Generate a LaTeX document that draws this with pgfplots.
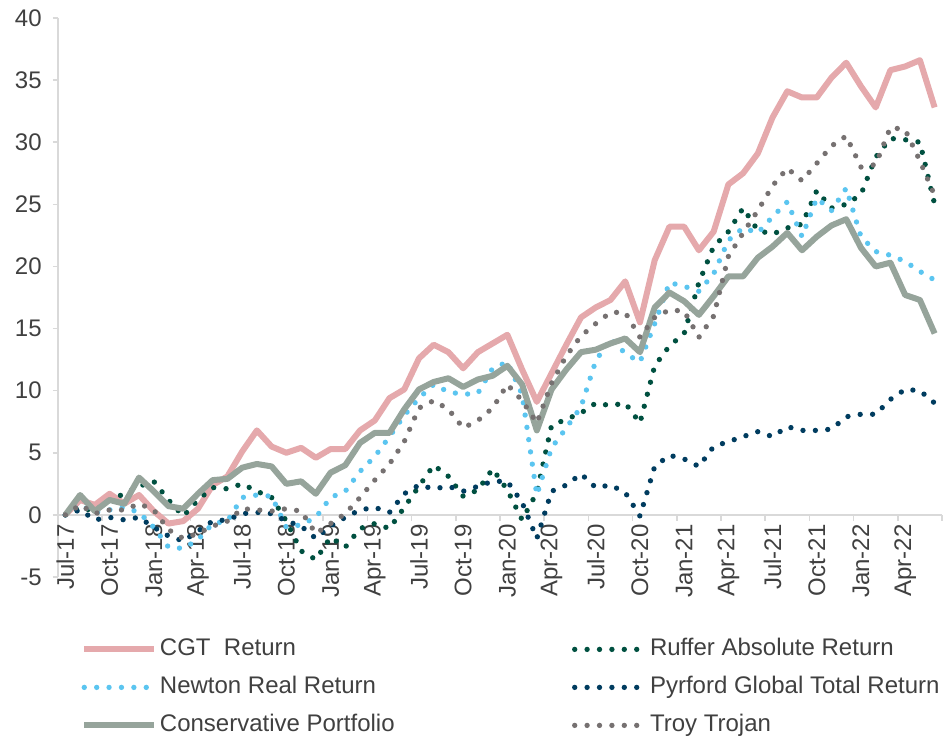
\documentclass[border=0pt]{standalone}
\usepackage{pgfplots}
\pgfplotsset{compat=1.18}
\usepackage{pgfplotstable}
\usepackage{fontspec}
\setmainfont{Liberation Sans}

\definecolor{cgtpink}{RGB}{229,169,172}
\definecolor{consgreen}{RGB}{150,164,155}
\definecolor{newtonblue}{RGB}{91,197,240}
\definecolor{rufferteal}{RGB}{0,80,64}
\definecolor{pyrfordnavy}{RGB}{0,60,95}
\definecolor{troygray}{RGB}{118,113,113}
\definecolor{axisgray}{RGB}{217,217,217}
\definecolor{labelgray}{RGB}{64,64,64}

% cumulative return, %, month index 0 = Jul-17
\pgfplotstableread{
i  cgt  ruffer newton pyrford cons troy
0  0.0  0.0   0.0   0.0   0.0  0.0
1  1.2  0.6   0.8   0.4   1.6  0.8
2  0.8  0.3   0.2  -0.4   0.3  0.1
3  1.7  1.2   0.4  -0.2   1.2  0.4
4  0.9  1.7   0.6  -0.4   0.9  0.4
5  1.6  2.3   0.2  -0.2   3.0  0.9
6  0.3  2.7  -1.0  -1.0   1.9  0.4
7  -0.7 1.2  -2.6  -1.7   0.7 -1.2
8  -0.5 -0.1 -2.7  -2.1   0.5 -1.9
9  0.5  1.2  -2.0  -1.3   1.7 -1.5
10 2.4  2.2  -0.7  -0.5   2.8 -0.9
11 3.1  2.1  -0.5  -0.4   2.9 -0.5
12 5.1  2.5   1.4   0.1   3.8  0.5
13 6.8  1.9   1.6   0.2   4.1  0.4
14 5.5  1.4   1.5   0.1   3.9  0.3
15 5.0  -0.5 -1.0  -0.5   2.5  0.5
16 5.4  -2.9 -0.8  -0.9   2.7  0.3
17 4.6  -3.6 -0.2  -1.9   1.7 -1.5
18 5.3  -1.8  1.4  -0.9   3.4 -0.7
19 5.3  -2.6  1.9  -0.2   4.0  0.1
20 6.8  -1.1  3.5   0.4   5.8  1.4
21 7.6  -0.7  4.7   0.6   6.6  2.8
22 9.4  -1.1  6.3   0.2   6.6  4.1
23 10.1 0.6   8.0   1.7   8.5  5.9
24 12.6 2.3   9.4   2.4  10.1  8.6
25 13.7 4.0  10.5   2.1  10.7  9.2
26 13.1 3.1   9.9   2.3  11.0  8.5
27 11.8 1.5   9.7   1.9  10.3  7.0
28 13.1 2.0   9.8   2.3  10.9  7.6
29 13.8 3.7  11.8   2.7  11.2  8.6
30 14.5 2.0  12.3   2.7  12.0 10.5
31 11.7 -0.4  9.7   1.0  10.5  9.2
32 9.1  1.8   1.6  -1.9   6.8  7.4
33 11.4 7.2   5.4   1.9  10.1 10.6
34 13.7 7.7   7.0   2.4  11.7 12.8
35 15.9 8.2   8.7   3.3  13.1 14.4
36 16.7 9.0  12.4   2.2  13.3 15.4
37 17.3 8.8  14.2   2.4  13.8 16.3
38 18.8 9.0  13.0   1.8  14.2 16.3
39 15.5 7.4  12.3  -0.1  13.1 14.3
40 20.5 12.0 15.4   3.9  16.7 15.9
41 23.2 13.6 18.7   4.8  17.9 16.5
42 23.2 14.6 18.4   4.5  17.2 16.4
43 21.3 18.7 18.0   3.9  16.1 14.3
44 22.8 21.6 19.4   5.5  17.6 16.0
45 26.6 22.8 22.1   5.9  19.2 20.8
46 27.5 24.7 23.1   6.3  19.2 22.7
47 29.1 22.9 22.7   6.7  20.7 24.5
48 32.0 22.6 24.0   6.3  21.6 26.5
49 34.1 23.1 25.2   7.1  22.7 27.9
50 33.6 23.4 22.4   6.8  21.3 26.9
51 33.6 26.1 25.5   6.8  22.4 28.3
52 35.2 24.7 24.5   6.9  23.3 29.7
53 36.4 25.0 26.3   7.9  23.8 30.5
54 34.5 25.8 22.4   8.1  21.5 28.0
55 32.8 28.8 21.2   8.1  20.0 28.2
56 35.8 30.3 20.9   9.3  20.3 31.2
57 36.1 30.2 20.4  10.1  17.7 31.0
58 36.6 30.0 19.6  10.0  17.3 28.5
59 32.8 25.0 18.9   9.0  14.6 25.7
}\returns

\tikzset{
    solidline/.style = {line width=4.5pt, line join=round},
    dotline/.style = {line width=4pt, line cap=round, dash pattern=on 0pt off 9.3pt},
}

\begin{document}
\begin{tikzpicture}
\begin{axis}[
    scale only axis,
    width=663pt, height=419.25pt,
    xmin=-0.5, xmax=59.5, ymin=-5, ymax=40,
    axis x line*=middle, axis y line*=left,
    axis line style={draw=axisgray, line width=1.2pt},
    tick align=outside,
    /pgf/number format/assume math mode=true,
    xtick={0,3,...,57},
    xticklabels={Jul-17,Oct-17,Jan-18,Apr-18,Jul-18,Oct-18,Jan-19,Apr-19,Jul-19,Oct-19,Jan-20,Apr-20,Jul-20,Oct-20,Jan-21,Apr-21,Jul-21,Oct-21,Jan-22,Apr-22},
    major x tick style={draw=none},
    minor xtick={-0.5,2.5,...,59.5},
    minor x tick style={draw=axisgray, line width=1.2pt},
    minor tick length=4.5pt,
    ytick={-5,0,...,40},
    y tick style={draw=axisgray, line width=1.2pt},
    major tick length=3.75pt,
    x tick label style={rotate=90, anchor=east, font=\fontsize{18}{21}\selectfont, text=labelgray},
    y tick label style={font=\fontsize{18}{21}\selectfont, text=labelgray, xshift=-5pt},
    legend columns=2,
    legend cell align=left,
    legend style={at={(0.0215,-0.104)}, anchor=north west, draw=none, fill=none,
        font=\fontsize{18}{21}\selectfont, text=labelgray,
        nodes={inner xsep=0pt, inner ysep=0pt, text height=13pt, text depth=4pt},
        row sep=11.5pt,
        /tikz/every odd column/.append style={column sep=2pt},
        /tikz/every even column/.append style={column sep=133pt}},
    legend image code/.code={\draw[#1] (0pt,0pt) -- (52.5pt,0pt);},
]
\addplot[cgtpink, solidline] table[x=i, y=cgt] {\returns};
\addlegendentry{CGT\ \ Return}
\addplot[rufferteal, dotline] table[x=i, y=ruffer] {\returns};
\addlegendentry{Ruffer Absolute Return}
\addplot[newtonblue, dotline] table[x=i, y=newton] {\returns};
\addlegendentry{Newton Real Return}
\addplot[pyrfordnavy, dotline] table[x=i, y=pyrford] {\returns};
\addlegendentry{Pyrford Global Total Return}
\addplot[consgreen, solidline] table[x=i, y=cons] {\returns};
\addlegendentry{Conservative Portfolio}
\addplot[troygray, dotline] table[x=i, y=troy] {\returns};
\addlegendentry{Troy Trojan}
\end{axis}
\pgfresetboundingbox
\path (current axis.south west) ++(-43.5pt,-120pt) rectangle ++(708.75pt,552.75pt);
\end{tikzpicture}
\end{document}
